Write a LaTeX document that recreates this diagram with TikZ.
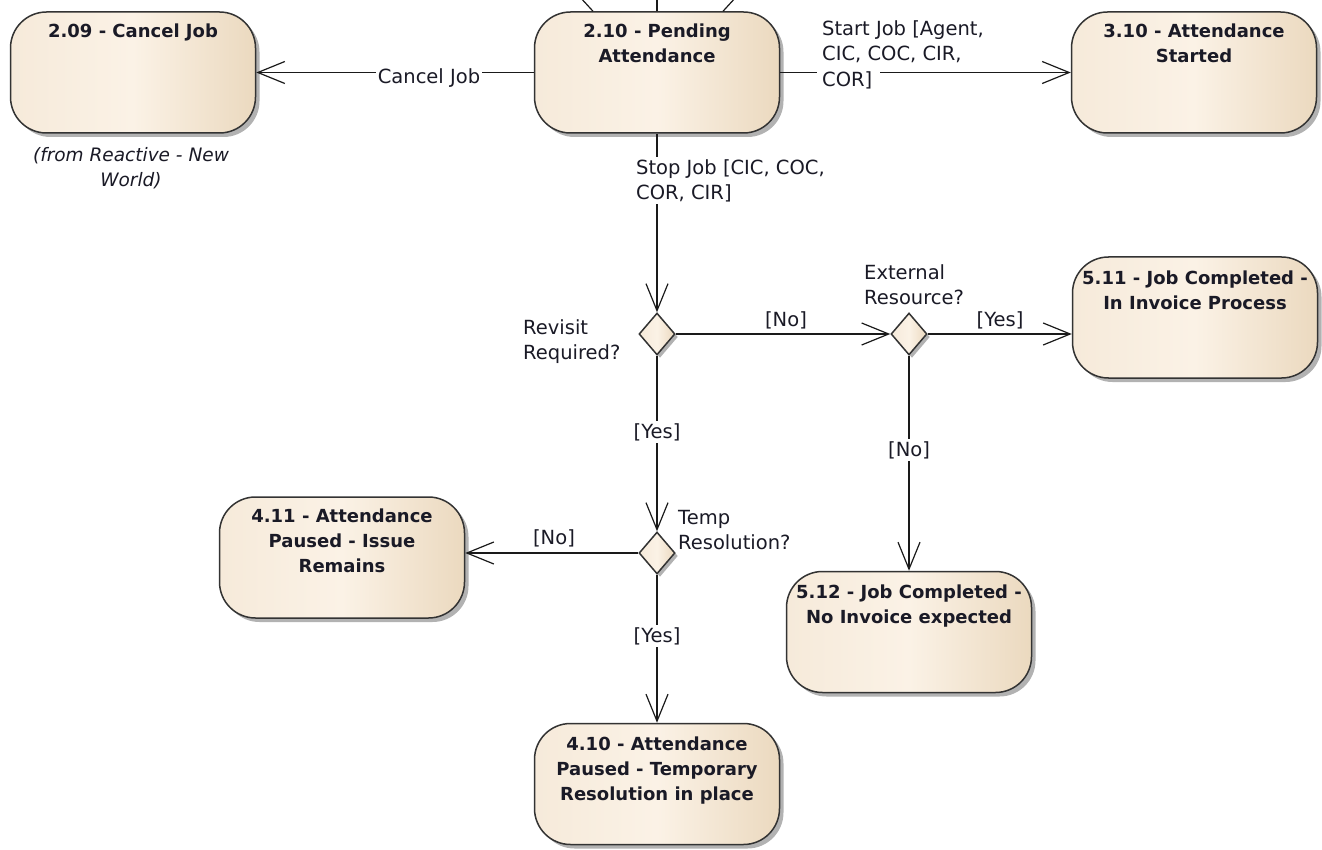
\documentclass[tikz,border=0pt]{standalone}
\usepackage{fontspec}
\setmainfont{DejaVu Sans}
\usetikzlibrary{arrows.meta,shadows,shapes.geometric,calc}
\definecolor{fillL}{HTML}{F6EADA}
\definecolor{fillM}{HTML}{FBF2E6}
\definecolor{fillR}{HTML}{EBD9BF}
\definecolor{edgec}{HTML}{333333}
\definecolor{linec}{HTML}{1A1A1A}
\definecolor{txt}{HTML}{1A1A26}
\tikzset{
  state/.style={draw=edgec, line width=1.5pt, rounded corners=36pt,
    minimum width=245pt, minimum height=121pt, inner sep=0pt,
    left color=fillL, right color=fillR, middle color=fillM,
    drop shadow={shadow xshift=4pt, shadow yshift=-4pt, opacity=0.3, fill=black}},
  title/.style={anchor=north, font=\bfseries\fontsize{18}{25}\selectfont,
    align=center, text=txt, inner sep=0pt},
  choice/.style={diamond, draw=edgec, line width=1.5pt, minimum width=36pt,
    minimum height=42pt, inner sep=0pt,
    left color=fillL, right color=fillR, middle color=fillM,
    drop shadow={shadow xshift=3pt, shadow yshift=-3pt, opacity=0.3, fill=black}},
  flow/.style={draw=linec, line width=1.2pt, -{Straight Barb[length=27pt,width=22pt,line width=1.2pt]}},
  plain/.style={draw=linec, line width=1.2pt},
  lab/.style={font=\fontsize{19.5}{25.5}\selectfont, text=txt, inner sep=0pt, align=left},
  labw/.style={lab, fill=white, inner sep=2pt},
  note/.style={font=\itshape\fontsize{18.5}{25}\selectfont, text=txt, inner sep=0pt, align=center}
}
\begin{document}
\begin{tikzpicture}[x=1pt,y=-1pt]
\useasboundingbox (0,0) rectangle (1322,850);
\fill[white] (0,0) rectangle (1322,850);

% states
\node[state] (n209) at (133,72.5) {};
\node[title] (t209) at ($(n209.north)+(0,12)$) {2.09 - Cancel Job};
\node[state] (n210) at (657,72.5) {};
\node[title] (t210) at ($(n210.north)+(0,12)$) {2.10 - Pending\\Attendance};
\node[state] (n310) at (1194,72.5) {};
\node[title] (t310) at ($(n310.north)+(0,12)$) {3.10 - Attendance\\Started};
\node[state] (n511) at (1195,317.5) {};
\node[title] (t511) at ($(n511.north)+(0,14)$) {5.11 - Job Completed -\\In Invoice Process};
\node[state] (n411) at (342,557.5) {};
\node[title] (t411) at ($(n411.north)+(0,12)$) {4.11 - Attendance\\Paused - Issue\\Remains};
\node[state] (n512) at (909,632) {};
\node[title] (t512) at ($(n512.north)+(0,14)$) {5.12 - Job Completed -\\No Invoice expected};
\node[state] (n410) at (657,784) {};
\node[title] (t410) at ($(n410.north)+(0,14)$) {4.10 - Attendance\\Paused - Temporary\\Resolution in place};

% decisions
\node[choice] (d1) at (657,334) {};
\node[choice] (d2) at (909,334) {};
\node[choice] (d3) at (657,553) {};

% incoming stubs at top of 2.10 (cut off)
\coordinate (s1) at (579,-4);
\coordinate (s2) at (657,-4);
\coordinate (s3) at (737,-4);
\draw[plain] ($(n210.north)+(-64,0)$) -- (s1);
\draw[plain] (n210.north) -- (s2);
\draw[plain] ($(n210.north)+(66,0)$) -- (s3);

% transitions
\draw[flow] (n210.west) -- (n209.east);
\draw[flow] (n210.east) -- (n310.west);
\draw[flow] (n210.south) -- (d1.north);
\draw[flow] (d1.east) -- (d2.west);
\draw[flow] (d2.east) -- (d2.east -| n511.west);
\draw[flow] (d2.south) -- (n512.north);
\draw[flow] (d1.south) -- (d3.north);
\draw[flow] (d3.west) -- (d3.west -| n411.east);
\draw[flow] (d3.south) -- (n410.north);

% labels
\node[labw] (lcancel) at (429,78) {Cancel Job};
\node[lab, anchor=north west] (lstart) at (822,20) {Start Job [Agent,\\CIC, COC, CIR,\\\makebox[0pt][l]{\hspace{-5pt}\textcolor{white}{\rule[-5pt]{63pt}{21pt}}}COR]};
\node[labw, anchor=north west] (lstop) at (634,157) {Stop Job [CIC, COC,\\COR, CIR]};
\node[lab] (lno1) at (786,320) {[No]};
\node[lab] (lyes1) at (1000,320) {[Yes]};
\node[lab, anchor=north west] (lext) at (864,264) {External\\Resource?};
\node[lab, anchor=north west] (lrev) at (523,319) {Revisit\\Required?};
\node[labw] (lyes2) at (657,432) {[Yes]};
\node[labw] (lno2) at (909,450) {[No]};
\node[lab, anchor=north west] (ltemp) at (678,510) {Temp\\Resolution?};
\node[lab] (lno3) at (554,538) {[No]};
\node[labw] (lyes3) at (657,636) {[Yes]};
\node[note, anchor=north] (lnote) at (131,147) {(from Reactive - New\\World)};
\end{tikzpicture}
\end{document}
